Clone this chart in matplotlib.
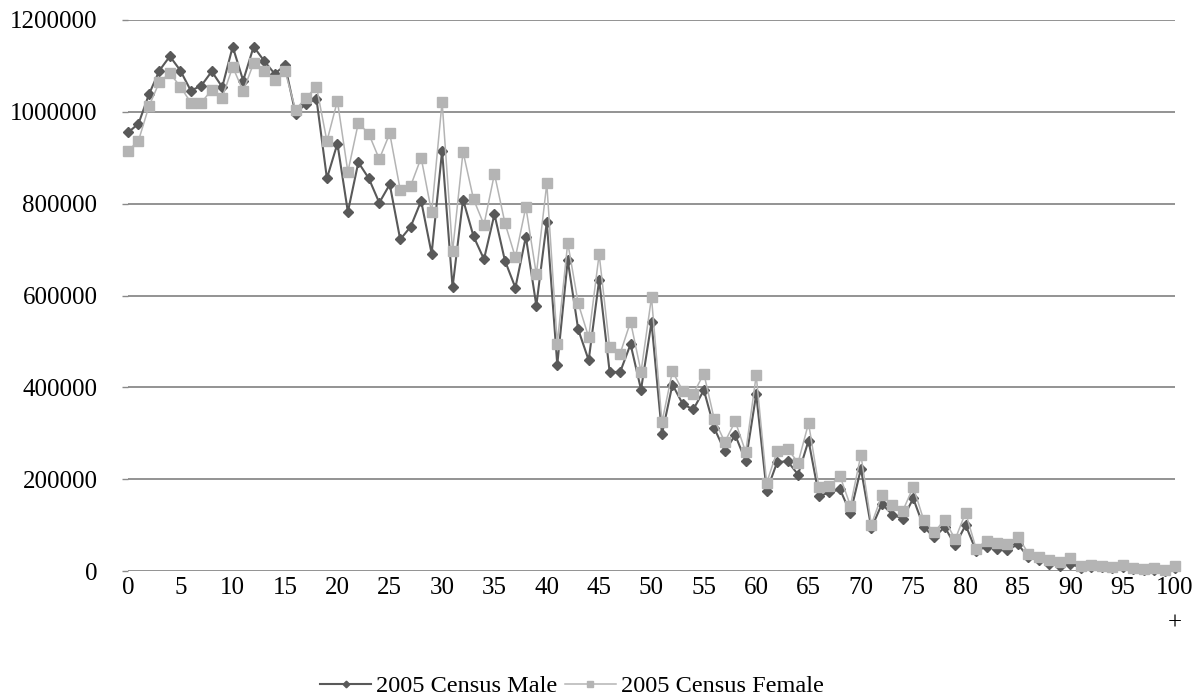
import matplotlib
matplotlib.use("Agg")
import matplotlib.pyplot as plt
import numpy as np

plt.rcParams['font.family'] = ['Liberation Serif', 'DejaVu Serif']

ages = list(range(0, 101))
age_labels = [str(a) for a in range(0, 100)] + ["100+"]

male = [955000, 974000, 1038000, 1090000, 1121000, 1090000, 1046000, 1057000, 1088000, 1054000,
        1142000, 1068000, 1142000, 1111000, 1083000, 1101000, 996000, 1018000, 1028000, 855000,
        931000, 782000, 890000, 855000, 802000, 842000, 722000, 750000, 806000, 691000,
        915000, 618000, 809000, 729000, 679000, 777000, 676000, 617000, 728000, 578000,
        760000, 449000, 677000, 526000, 459000, 634000, 434000, 433000, 494000, 395000,
        542000, 298000, 406000, 363000, 352000, 394000, 311000, 261000, 296000, 239000,
        385000, 174000, 237000, 239000, 210000, 284000, 163000, 171000, 178000, 126000,
        223000, 93000, 146000, 123000, 114000, 158000, 96000, 73000, 96000, 56000,
        100000, 44000, 53000, 48000, 46000, 58000, 30000, 23000, 16000, 11000,
        16000, 7000, 9000, 8000, 6000, 9000, 4000, 2000, 3000, 1000,
        7000]

female = [915000, 937000, 1012000, 1065000, 1084000, 1055000, 1020000, 1020000, 1048000, 1031000,
          1098000, 1045000, 1106000, 1089000, 1069000, 1089000, 1005000, 1030000, 1055000, 936000,
          1024000, 869000, 976000, 952000, 897000, 953000, 830000, 839000, 900000, 781000,
          1022000, 696000, 913000, 810000, 754000, 865000, 758000, 683000, 793000, 646000,
          844000, 495000, 715000, 583000, 509000, 690000, 487000, 473000, 543000, 434000,
          596000, 324000, 435000, 392000, 386000, 430000, 330000, 281000, 326000, 259000,
          426000, 192000, 261000, 266000, 236000, 322000, 182000, 186000, 207000, 142000,
          253000, 101000, 165000, 143000, 131000, 183000, 111000, 84000, 112000, 69000,
          127000, 49000, 66000, 60000, 58000, 75000, 38000, 31000, 24000, 20000,
          28000, 11000, 14000, 11000, 9500, 13500, 6500, 3500, 5500, 2000,
          11000]

series_names = ["2005 Census Male", "2005 Census Female"]
yticks = [0, 200000, 400000, 600000, 800000, 1000000, 1200000]

W, H = 1196, 700
fig = plt.figure(figsize=(W / 100, H / 100), dpi=100)
ax = fig.add_axes([128 / W, 1 - 571 / H, (1175 - 128) / W, (571 - 20) / H])

FS = 18
grid_c = '#8a8a8a'

ax.plot(ages, male, color='#595959', lw=1.5, marker='D', ms=4.8,
        markerfacecolor='#595959', markeredgecolor='#595959', label=series_names[0],
        zorder=3, clip_on=False)
ax.plot(ages, female, color='#b4b4b4', lw=1.1, marker='s', ms=6.8,
        markerfacecolor='#b4b4b4', markeredgecolor='#b4b4b4', label=series_names[1],
        zorder=4, clip_on=False)

ax.set_xlim(0, 100)
ax.set_ylim(0, 1200000)
ax.set_yticks(yticks)
ax.set_yticklabels([str(v) for v in yticks], fontsize=FS)
ax.yaxis.grid(True, color=grid_c, lw=1.3)
ax.set_axisbelow(True)

xt = ages[::5]
ax.set_xticks(xt)
ax.set_xticklabels([age_labels[a].replace("100+", "100\n+") for a in xt], fontsize=FS,
                   linespacing=1.8)

for s in ax.spines.values():
    s.set_visible(False)
ax.tick_params(axis='y', length=4, width=1.0, color=grid_c, pad=18)
ax.tick_params(axis='x', length=0, pad=4)

leg = fig.legend(loc='center', bbox_to_anchor=(572 / W, 1 - 686 / H), ncol=2, frameon=False,
                 fontsize=17.5, handlelength=2.1, handletextpad=0.2, columnspacing=0.3,
                 markerscale=0.7)

fig.savefig('out.png', dpi=100)
